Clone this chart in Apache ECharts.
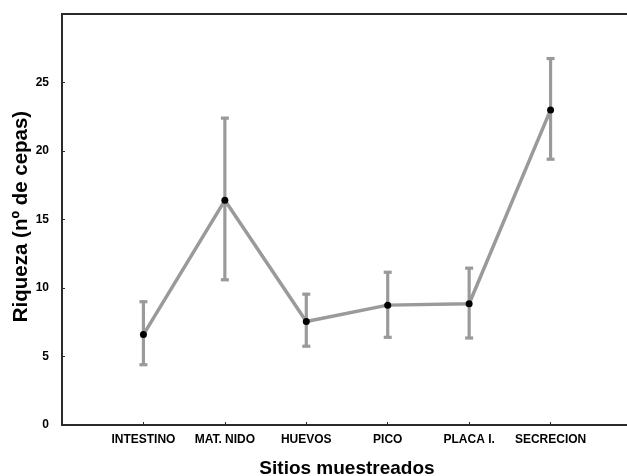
<!DOCTYPE html>
<html>
<head>
<meta charset="utf-8">
<script src="https://cdn.jsdelivr.net/npm/echarts@6/dist/echarts.min.js"></script>
<style>
  html, body { margin: 0; padding: 0; background: #fff; }
  #chart { width: 627px; height: 476px; }
</style>
</head>
<body>
<div id="chart"></div>
<script>
// Sampling sites and species richness (mean with interval bounds)
const categories = ['INTESTINO', 'MAT. NIDO', 'HUEVOS', 'PICO', 'PLACA I.', 'SECRECION'];
const means = [6.6, 16.4, 7.55, 8.75, 8.85, 23.0];
const upper = [9.0, 22.4, 9.55, 11.15, 11.45, 26.75];
const lower = [4.4, 10.6, 5.75, 6.4, 6.35, 19.4];
const yTicks = [0, 5, 10, 15, 20, 25];

const FONT = '"Liberation Sans", Arial, sans-serif';
const GRAY = '#9a9a9a';

// sites sit at x = 1..6 on a numeric axis; the frame runs past the right edge of the page
const meanData = means.map((v, i) => [i + 1, v]);
const errData = means.map((v, i) => [i + 1, lower[i], upper[i]]);

const chart = echarts.init(document.getElementById('chart'), null, { renderer: 'canvas' });

chart.setOption({
  animation: false,
  backgroundColor: '#fff',
  grid: {
    left: 62, top: 14, width: 570, bottom: 51,
    outerBoundsMode: 'none',
    containLabel: false,
    show: true, borderColor: '#2a2a2a', borderWidth: 2, backgroundColor: 'transparent'
  },
  xAxis: {
    type: 'value',
    min: 0, max: 7, interval: 1,
    name: 'Sitios muestreados',
    nameLocation: 'middle',
    nameGap: 34,
    nameMoveOverlap: false,
    nameTextStyle: { fontFamily: FONT, fontWeight: 'bold', fontSize: 19, color: '#000' },
    axisLine: { show: true, lineStyle: { color: '#2a2a2a', width: 2 } },
    axisTick: { show: true, inside: true, length: 3, lineStyle: { color: '#2a2a2a', width: 1 } },
    axisLabel: {
      margin: 9,
      fontFamily: FONT, fontWeight: 'bold', fontSize: 12, color: '#000',
      formatter: v => (v >= 1 && v <= categories.length) ? categories[v - 1] : ''
    },
    splitLine: { show: false }
  },
  yAxis: {
    type: 'value',
    min: 0, max: 30, interval: 5,
    name: 'Riqueza (nº de cepas)',
    nameLocation: 'middle',
    nameGap: 30,
    nameMoveOverlap: false,
    nameTextStyle: { fontFamily: FONT, fontWeight: 'bold', fontSize: 20.5, color: '#000', padding: [0, 0, 0, 6] },
    axisLine: { show: true, lineStyle: { color: '#2a2a2a', width: 2 } },
    axisTick: { show: true, inside: true, length: 3, lineStyle: { color: '#2a2a2a', width: 1 } },
    axisLabel: {
      margin: 13,
      fontFamily: FONT, fontWeight: 'bold', fontSize: 12, color: '#000',
      formatter: v => yTicks.includes(v) ? String(v) : ''
    },
    splitLine: { show: false }
  },
  series: [
    {
      // vertical interval bars with flat caps
      type: 'custom',
      data: errData,
      z: 2,
      renderItem: (params, api) => {
        const x = api.value(0);
        const lo = api.coord([x, api.value(1)]);
        const hi = api.coord([x, api.value(2)]);
        const cap = 4;
        const style = { stroke: GRAY, lineWidth: 3.2, fill: null };
        return {
          type: 'group',
          children: [
            { type: 'line', shape: { x1: lo[0], y1: lo[1], x2: hi[0], y2: hi[1] }, style },
            { type: 'line', shape: { x1: hi[0] - cap, y1: hi[1], x2: hi[0] + cap, y2: hi[1] }, style },
            { type: 'line', shape: { x1: lo[0] - cap, y1: lo[1], x2: lo[0] + cap, y2: lo[1] }, style }
          ]
        };
      }
    },
    {
      type: 'line',
      data: meanData,
      z: 3,
      lineStyle: { color: GRAY, width: 3.5 },
      symbol: 'circle',
      symbolSize: 7,
      itemStyle: { color: '#000', borderWidth: 0 }
    }
  ]
});
</script>
</body>
</html>
